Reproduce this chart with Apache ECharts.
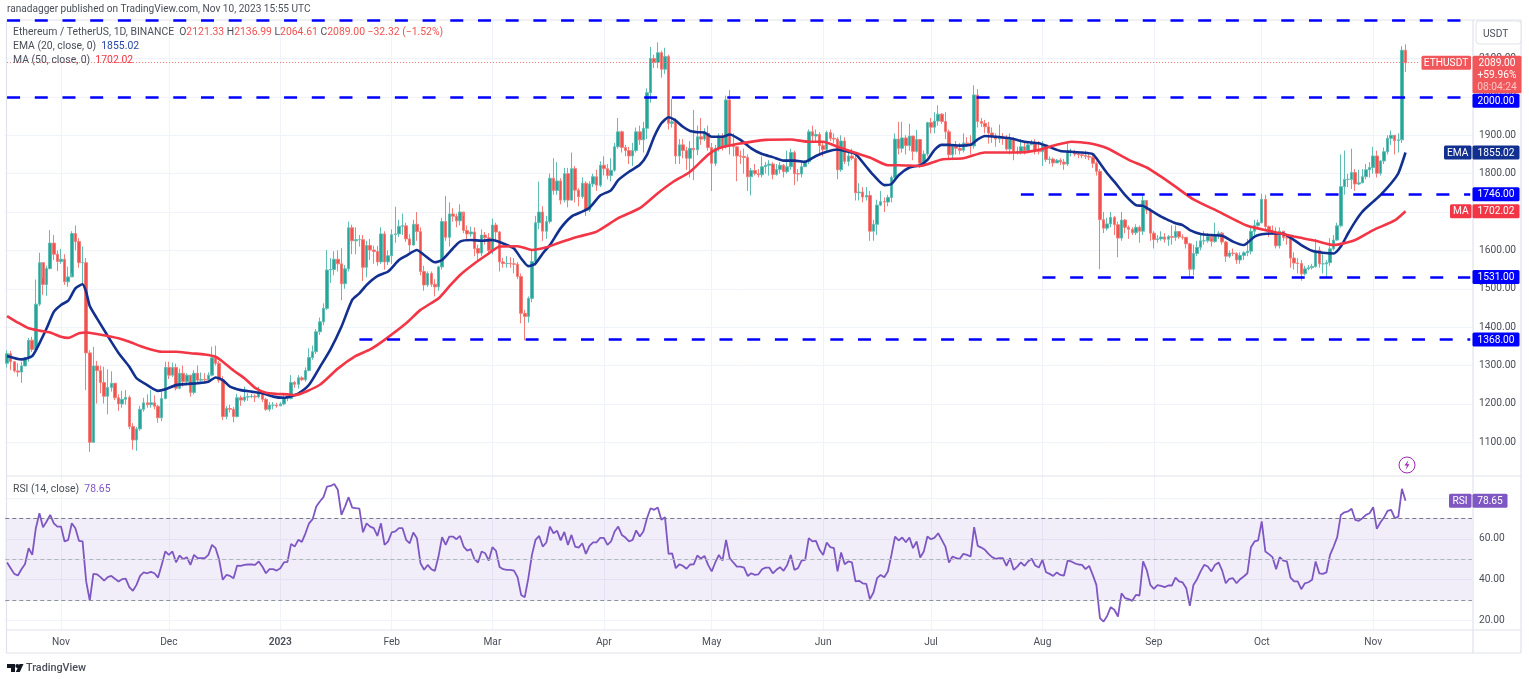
<!DOCTYPE html>
<html>
<head>
<meta charset="utf-8">
<title>ETHUSDT</title>
<script src="https://cdn.jsdelivr.net/npm/echarts@6/dist/echarts.min.js"></script>
<style>
html, body { margin: 0; padding: 0; background: #fff; }
#container { width: 1529px; height: 679px; }
</style>
</head>
<body>
<div id="container"></div>
<script>
// daily candles, one line per month, Oct 17 2022 - Nov 10 2023
var firstOpen = 1306;
var closes = [
    1331,1310,1286,1283,1299,1319,1366,1342,1460,1568,1511,1553,1619,1590,1571,
    1577,1518,1531,1644,1623,1568,1568,1333,1100,1299,1287,1256,1220,1243,1254,1216,1200,1212,1217,1141,1106,1135,1186,1203,1198,1203,1194,1164,1214,1295,
    1275,1295,1241,1280,1258,1275,1230,1280,1262,1264,1263,1275,1320,1306,1262,1167,1188,1186,1167,1216,1210,1218,1219,1220,1218,1227,1212,1186,1197,1197,1195,
    1200,1214,1214,1256,1251,1268,1263,1287,1321,1336,1388,1414,1449,1549,1550,1577,1565,1513,1552,1659,1625,1628,1628,1556,1613,1601,1597,1570,1643,1570,1586,
    1641,1643,1663,1664,1630,1614,1668,1649,1545,1510,1540,1512,1505,1557,1675,1634,1695,1689,1677,1700,1652,1643,1648,1605,1593,1640,1633,1600,
    1666,1648,1570,1566,1566,1565,1564,1532,1436,1428,1475,1571,1672,1700,1650,1675,1788,1756,1781,1731,1800,1731,1813,1757,1740,1775,1705,1773,1792,1770,1822,
    1813,1795,1809,1870,1909,1868,1860,1846,1860,1909,1888,1918,2011,2100,2090,2115,2072,2105,1931,1935,1846,1875,1860,1840,1866,1862,1896,1890,1905,1868,
    1827,1866,1898,1870,1992,1875,1870,1846,1845,1842,1792,1808,1800,1797,1818,1822,1825,1798,1811,1822,1805,1818,1855,1800,1799,1818,1831,1909,1898,1902,1873,
    1863,1907,1892,1890,1810,1885,1832,1846,1840,1750,1752,1739,1743,1650,1668,1718,1727,1726,1738,1790,1890,1866,1893,1873,1898,1858,1889,1827,1851,1933,
    1921,1937,1955,1936,1909,1849,1872,1866,1861,1880,1878,1872,2005,1936,1931,1922,1906,1897,1890,1892,1891,1864,1889,1857,1858,1870,1860,1875,1880,1860,1857,
    1875,1837,1838,1828,1835,1830,1825,1855,1855,1851,1849,1847,1845,1843,1827,1806,1680,1658,1669,1686,1667,1632,1679,1660,1655,1646,1660,1650,1730,1705,1645,
    1628,1630,1635,1629,1636,1634,1649,1635,1634,1617,1551,1592,1608,1625,1625,1636,1623,1640,1645,1622,1585,1593,1592,1575,1587,1594,1598,1650,1665,1672,
    1733,1662,1650,1646,1612,1650,1633,1632,1580,1567,1566,1539,1552,1555,1558,1600,1565,1565,1568,1604,1627,1664,1766,1785,1785,1803,1773,1776,1792,1810,1816,
    1846,1801,1833,1857,1892,1900,1886,1888,2121.33,2089
];
var highs = [
    1340,1338,1312,1306,1310,1322,1372,1375,1524,1594,1528,1560,1653,1640,1600,
    1604,1590,1558,1650,1665,1632,1610,1580,1340,1349,1312,1300,1297,1290,1285,1254,1225,1234,1236,1222,1150,1140,1195,1216,1225,1236,1222,1198,1232,1310,
    1310,1308,1305,1292,1300,1280,1275,1288,1300,1282,1280,1282,1349,1352,1312,1272,1195,1198,1192,1226,1222,1245,1228,1226,1225,1245,1232,1216,1205,1205,1203,
    1204,1222,1220,1275,1260,1275,1272,1295,1345,1352,1395,1425,1462,1601,1580,1598,1600,1606,1562,1675,1667,1660,1640,1640,1625,1630,1612,1612,1660,1650,1600,
    1655,1714,1680,1696,1672,1642,1680,1700,1660,1560,1545,1545,1525,1560,1685,1742,1725,1710,1696,1720,1690,1665,1662,1660,1615,1655,1648,1645,
    1683,1672,1650,1580,1585,1582,1580,1570,1540,1445,1480,1600,1690,1779,1715,1690,1800,1840,1830,1788,1815,1815,1855,1820,1762,1790,1780,1780,1800,1810,1832,
    1845,1825,1840,1880,1945,1912,1875,1870,1880,1920,1925,1935,2022,2130,2110,2142,2120,2128,2110,1995,1945,1890,1890,1870,1885,1966,1925,1945,1918,1925,
    1880,1875,1905,1905,2003,2018,1905,1872,1860,1865,1850,1815,1825,1812,1845,1830,1835,1830,1825,1830,1825,1860,1865,1860,1812,1835,1835,1915,1925,1915,1908,
    1880,1912,1915,1905,1895,1900,1895,1858,1865,1850,1775,1765,1765,1755,1680,1732,1755,1738,1745,1795,1905,1935,1935,1900,1930,1898,1914,1888,1860,1935,
    1945,1960,1978,1958,1960,1915,1875,1885,1880,1905,1895,1900,2030,2020,1945,1940,1935,1920,1905,1928,1905,1900,1905,1895,1870,1890,1885,1882,1888,1890,1885,
    1885,1875,1845,1842,1838,1840,1838,1880,1865,1862,1858,1853,1860,1855,1848,1832,1812,1700,1685,1700,1690,1675,1700,1682,1665,1660,1668,1665,1745,1730,1710,
    1650,1640,1650,1645,1640,1665,1665,1650,1642,1635,1620,1615,1625,1640,1650,1645,1630,1672,1650,1648,1625,1600,1605,1595,1595,1598,1630,1660,1680,1680,
    1748,1745,1665,1665,1660,1660,1650,1640,1635,1595,1580,1575,1560,1562,1565,1630,1610,1590,1575,1632,1640,1672,1850,1860,1800,1865,1812,1810,1812,1825,1830,
    1870,1860,1835,1868,1900,1912,1900,1905,2132,2136.99
];
var lows = [
    1295,1288,1282,1271,1255,1298,1310,1335,1342,1455,1484,1482,1550,1575,1546,
    1565,1510,1505,1540,1600,1555,1510,1236,1075,1100,1201,1228,1201,1173,1232,1210,1182,1190,1198,1134,1081,1078,1130,1180,1190,1190,1186,1151,1155,1212,
    1265,1270,1235,1238,1245,1248,1219,1225,1255,1258,1255,1260,1272,1300,1255,1158,1160,1178,1152,1165,1195,1205,1208,1215,1205,1215,1205,1182,1180,1186,1190,
    1195,1196,1207,1212,1242,1240,1260,1258,1285,1315,1330,1380,1405,1445,1515,1535,1545,1470,1500,1545,1590,1590,1610,1520,1530,1575,1565,1560,1565,1550,1562,
    1565,1620,1635,1640,1622,1595,1612,1625,1535,1495,1505,1505,1480,1495,1550,1625,1610,1675,1660,1665,1645,1625,1635,1585,1575,1585,1615,1590,
    1590,1625,1545,1555,1555,1555,1540,1525,1410,1366,1412,1465,1560,1655,1625,1630,1670,1745,1745,1720,1725,1712,1730,1725,1715,1735,1690,1700,1765,1755,1765,
    1795,1785,1780,1805,1865,1855,1845,1825,1820,1855,1875,1855,1890,1985,2075,2075,2050,2060,1915,1920,1825,1825,1840,1810,1790,1783,1848,1875,1885,1860,
    1755,1820,1858,1860,1865,1850,1845,1780,1825,1800,1755,1743,1795,1790,1790,1800,1795,1785,1795,1800,1790,1800,1810,1770,1780,1790,1820,1825,1880,1880,1850,
    1845,1855,1885,1880,1785,1805,1825,1820,1835,1730,1730,1725,1730,1625,1625,1640,1715,1700,1715,1725,1785,1850,1855,1850,1860,1835,1855,1815,1825,1845,
    1905,1905,1925,1930,1890,1835,1835,1850,1850,1855,1870,1850,1865,1920,1922,1905,1878,1880,1870,1880,1875,1860,1850,1835,1850,1850,1850,1862,1875,1850,1850,
    1820,1830,1825,1818,1828,1822,1810,1820,1845,1845,1840,1840,1838,1835,1815,1795,1551,1645,1652,1660,1640,1582,1625,1645,1630,1640,1640,1620,1640,1695,1625,
    1605,1620,1625,1620,1612,1615,1625,1630,1628,1605,1531,1535,1585,1600,1615,1620,1610,1620,1630,1615,1570,1580,1585,1565,1565,1575,1585,1590,1640,1660,
    1670,1650,1635,1640,1605,1605,1625,1615,1555,1550,1540,1521,1535,1548,1550,1555,1555,1540,1530,1560,1600,1625,1660,1745,1765,1760,1755,1770,1775,1785,1790,
    1800,1790,1795,1825,1850,1875,1850,1855,1880,2064.61
];

// EMA and MA, [day number, value]
var emaPoints = [
    [0,1325],[4,1316],[7,1325],[9,1358],[11,1397],[13,1440],[15,1458],[17,1469],[19,1501],[21,1512],[22,1492],[23,1455],[25,1423],[28,1377],[31,1333],[34,1297],[36,1267],[39,1249],[42,1234],[44,1238],[47,1249],[50,1252],[53,1254],[56,1258],[58,1269],[60,1262],[62,1245],[65,1236],[68,1232],[71,1228],[74,1219],[77,1216],[79,1220],[81,1227],[84,1250],[87,1296],
    [90,1343],[93,1401],[96,1471],[98,1488],[100,1510],[103,1533],[106,1545],[109,1575],[111,1586],[114,1601],[116,1588],[119,1569],[121,1575],[124,1605],[126,1623],[129,1627],[132,1625],[135,1627],[138,1618],[141,1605],[143,1579],[145,1559],[147,1566],[149,1592],[151,1614],[154,1658],[157,1688],[160,1701],[162,1711],
    [165,1743],[168,1757],[170,1783],[173,1805],[176,1823],[178,1849],[180,1896],[182,1931],[184,1947],[186,1938],[188,1922],[190,1911],[192,1908],[194,1907],[196,1896],[199,1896],[201,1902],[204,1888],[207,1866],[210,1851],[213,1843],[216,1834],[219,1834],[222,1831],[225,1846],[228,1857],[231,1863],[234,1857],[236,1851],[239,1818],
    [241,1796],[244,1770],[246,1773],[248,1796],[251,1816],[254,1822],[256,1836],[258,1862],[260,1875],[262,1875],[265,1873],[268,1875],[270,1889],[272,1898],[275,1896],[279,1892],[283,1883],[287,1879],[290,1869],[293,1859],[296,1857],[299,1855],[302,1851],[304,1827],[306,1801],[308,1779],[311,1744],[314,1718],[316,1716],[318,1705],[321,1688],[323,1679],
    [325,1671],[327,1666],[329,1653],[332,1643],[335,1640],[338,1638],[341,1623],[344,1614],[347,1636],[349,1642],[352,1644],[355,1643],[358,1627],[360,1614],[363,1599],[366,1594],[369,1592],[371,1610],[373,1644],[375,1675],[377,1701],[380,1727],[382,1744],[385,1775],[387,1801],[389,1855.02]
];
var maPoints = [
    [0,1429],[3,1412],[6,1397],[9,1391],[12,1386],[15,1375],[17,1372],[20,1384],[22,1386],[25,1382],[28,1377],[31,1371],[34,1362],[37,1351],[40,1342],[43,1336],[47,1336],[51,1332],[55,1329],[58,1323],[60,1310],[63,1287],[66,1267],[69,1242],[72,1229],[75,1226],[78,1225],[80,1223],[87,1250],[92,1292],[97,1325],
    [101,1342],[105,1367],[111,1410],[115,1445],[120,1475],[123,1506],[126,1536],[130,1566],[134,1592],[137,1610],[142,1611],[146,1601],[150,1608],[153,1618],[159,1636],[164,1649],[170,1684],[176,1710],[181,1749],[185,1777],[190,1805],[195,1849],[198,1866],[203,1877],[211,1888],[218,1889],[223,1883],[227,1883],[231,1870],[237,1851],
    [240,1842],[245,1822],[248,1822],[254,1820],[260,1837],[266,1840],[272,1855],[281,1855],[286,1860],[292,1875],[296,1883],[301,1879],[306,1866],[312,1836],[317,1816],[321,1792],[325,1766],[330,1733],[337,1701],[345,1664],[351,1651],[358,1636],[364,1625],[369,1614],[375,1627],[380,1653],[386,1678],[389,1702.02]
];
var rsiValues = [
    48.4,45.6,42.8,42,45.1,47.7,55.4,52.1,65.2,72.5,65.7,68.5,71.7,67.6,66,66,58.7,59.5,67.6,65.2,59,58.7,39.1,29.7,42.8,42.6,41.2,39.5,41.2,41.8,40.4,39.1,40.2,40.5,36.3,34.5,37.4,41.8,43.5,43.1,43.8,43.1,41,47.2,53.8,52.1,53.8,48.5,51.8,50,51,47.2,52.1,50.5,50.5,50.5,52.1,57,55.4,49.7,39.9,42.3,41.8,40.7,46.9,46.7,47.2,47.4,47.4,47.2,48.9,46.4,43.1,45.1,45.1,44.4,45.6,48.4,48.7,57.5,56.2,59.5,58.5,62.7,67.6,69.6,75.8,78.3,80.4,85.6,85.9,86.9,84,71.7,75.8,80.4,75.3,75,74.8,63.2,67.6,66,65.2,61.4,67.6,57,58.7,63.2,63.6,65.2,65.2,59.5,57.8,63.1,60.3,48,44.8,47.2,45.1,44.3,51.3,60.8,57,61.1,61.1,59.8,61.4,56.2,54.2,54.9,50,48.4,53.8,52.9,49.3,55.9,54.1,46.2,
    45.1,44.8,44.8,44.4,41.2,32.5,31.4,40.7,52.1,59.5,61.4,56.2,58.2,66,62.7,63.9,59.2,63.4,57,61.9,56.2,55.7,57.8,52.6,56.5,58.2,58.3,60.5,60.5,57,58.7,63.6,66,61.9,60.6,58.7,59.5,64.1,61.1,63.6,70.1,75,74.2,75.3,69.3,70.6,52.6,52.9,45.6,47.5,46.7,45.3,47.4,47.5,51.8,50.3,51.6,47.2,44,48.4,52.1,49.3,59.5,50.5,48.4,46.4,46.4,45.9,41.8,43.1,42.3,42.6,45.1,45.9,45.9,43.1,44.8,46.1,44.3,47.2,52.1,44.8,45.6,49.3,49.7,60.3,58.7,59,54.6,52.1,58.2,55.9,55.4,44,53.3,47.5,48.9,48.5,39.1,39.4,38.2,37.9,30.4,33.7,40.7,42.3,41.2,44,52.1,61.1,59.2,60.6,58.3,60.6,55.4,58.7,50.8,53.8,61.1,59.8,60.6,62.7,59.5,56.2,48.4,51.3,50.5,50.2,52.6,52.1,51.3,65.7,56.5,55.7,54.6,52.6,51,50.2,50.5,
    50.5,46.7,50.5,44.8,46.4,48.4,46.7,48.9,50.2,46.9,45.9,49.7,43.6,42.8,41.8,43.5,42.3,42,49.3,48.9,48,47.4,47.2,45.1,46.7,42.3,37.4,21.1,19.4,22.2,26.5,25.2,21.9,33.3,30.9,30.4,29.6,32.5,32.2,48.9,44.8,37.4,35.5,37.3,36.9,36.3,37.1,37.1,41,39.1,38.6,35.8,27.1,37.4,40.2,44,47.2,46.4,44,47.2,48.4,44.4,38.2,40.4,40.7,38.2,40.2,41.5,43.1,55.9,58.7,59.2,68.5,53.8,52.5,51,45.1,51,49.3,48.9,41,39.1,39.1,35.3,38.2,38.7,39.9,48.9,43.1,42.8,43.5,52.1,56.2,60.8,71.7,73,73.4,74.7,69.3,68.8,70.1,71.7,72.5,75.5,64.9,68,70.4,73.7,74.2,70.1,70.9,84.5,78.65
];

var levels = [2200, 2000, 1746, 1531, 1368]; // horizontal support/resistance
var levelStart = [0, 0, 282, 288, 98];       // day where each line begins
var levelEnd = [407, 405, 407, 407, 407];
var lastPrice = 2089, emaLast = 1855.02, maLast = 1702.02, rsiLast = 78.65;
var monthNames = ['Jan','Feb','Mar','Apr','May','Jun','Jul','Aug','Sep','Oct','Nov','Dec'];

// day categories incl. the empty space to the right of the last candle
var dates = [];
for (var i = 0; i < 408; i++) {
    var d = new Date(Date.UTC(2022, 9, 17 + i));
    dates.push(d.toISOString().slice(0, 10));
}

var opens = [firstOpen].concat(closes.slice(0, -1));
var candles = closes.map(function (c, k) {
    return [opens[k], c, lows[k], highs[k]];
});

var upColor = '#26a69a', downColor = '#ef5350', blue = '#0000ff';
var upEdge = '#5fbdb4', downEdge = '#f47d7a'; // wicks look paler than bodies
var emaColor = '#12308f', maColor = '#f23645', rsiColor = '#7e57c2';
var gridColor = '#f0f3fa', frameColor = '#e0e3eb', textColor = '#4a4e59';
var fontName = 'Roboto';
var axisFont = 10.2, legendFont = 10.4;

var plotLeft = 5.28, plotWidth = 1466.76;

function isMonthStart(index, value) {
    return value.slice(8) === '01';
}

function levelLine(k) {
    return [
        { xAxis: dates[levelStart[k]], yAxis: levels[k] },
        { xAxis: dates[levelEnd[k]], yAxis: levels[k] }
    ];
}

var dom = document.getElementById('container');
var myChart = echarts.init(dom, null, { renderer: 'canvas' });

var option = {
    animation: false,
    backgroundColor: '#ffffff',
    textStyle: { fontFamily: fontName },
    grid: [
        { left: plotLeft, width: plotWidth, top: 20.1, height: 460.6 },
        { left: plotLeft, width: plotWidth, top: 477.6, height: 163.2 },
        { left: plotLeft, width: plotWidth, top: 20, height: 610 }
    ],
    xAxis: [
        { type: 'category', gridIndex: 0, data: dates, show: false },
        { type: 'category', gridIndex: 1, data: dates, show: false },
        {
            type: 'category', gridIndex: 2, data: dates,
            axisLine: { show: false },
            axisTick: { show: false },
            splitLine: {
                show: true,
                alignWithLabel: true,
                interval: isMonthStart,
                lineStyle: { color: gridColor, width: 1 }
            },
            axisLabel: {
                interval: isMonthStart,
                margin: 7,
                fontSize: axisFont,
                color: textColor,
                fontFamily: fontName,
                formatter: function (value) {
                    if (value === '2023-01-01') return '{b|2023}';
                    return monthNames[+value.slice(5, 7) - 1];
                },
                rich: { b: { fontWeight: 600, fontSize: axisFont, color: textColor, fontFamily: fontName } }
            }
        }
    ],
    yAxis: [
        {
            type: 'value', gridIndex: 0, position: 'right',
            min: 1000, max: 2200, interval: 100,
            axisLine: { show: false }, axisTick: { show: false },
            splitLine: { show: true, showMinLine: false, showMaxLine: false, lineStyle: { color: gridColor } },
            axisLabel: {
                margin: 7, fontSize: axisFont, color: textColor, fontFamily: fontName,
                showMinLabel: false, showMaxLabel: false,
                formatter: function (v) { return v.toFixed(2); }
            }
        },
        {
            type: 'value', gridIndex: 1, position: 'right',
            min: 10, max: 90, interval: 10,
            axisLine: { show: false }, axisTick: { show: false },
            splitLine: { show: true, showMinLine: false, showMaxLine: false, lineStyle: { color: gridColor } },
            axisLabel: {
                margin: 7, fontSize: axisFont, color: textColor, fontFamily: fontName,
                formatter: function (v) { return (v === 20 || v === 40 || v === 60) ? v.toFixed(2) : ''; }
            }
        },
        { type: 'value', gridIndex: 2, show: false, splitLine: { show: false } }
    ],
    series: [
        {
            name: 'ETHUSDT', type: 'candlestick', xAxisIndex: 0, yAxisIndex: 0,
            barWidth: 3,
            data: candles,
            itemStyle: {
                color: upColor, color0: downColor,
                borderColor: upEdge, borderColor0: downEdge, borderWidth: 1
            },
            markLine: {
                silent: true, symbol: 'none', animation: false,
                label: { show: false },
                lineStyle: { color: blue, width: 2.5, type: [13, 14.7], opacity: 1 },
                data: levels.map(function (v, k) { return levelLine(k); }).concat([[
                    {
                        xAxis: dates[0], yAxis: lastPrice,
                        lineStyle: { color: downColor, width: 1, type: [1, 2], opacity: 0.8 }
                    },
                    { xAxis: dates[393], yAxis: lastPrice }
                ]])
            }
        },
        {
            name: 'EMA', type: 'line', xAxisIndex: 0, yAxisIndex: 0,
            data: emaPoints, showSymbol: false, smooth: 0.2,
            lineStyle: { color: emaColor, width: 2.6 }, z: 3
        },
        {
            name: 'MA', type: 'line', xAxisIndex: 0, yAxisIndex: 0,
            data: maPoints, showSymbol: false, smooth: 0.2,
            lineStyle: { color: maColor, width: 2.6 }, z: 3
        },
        {
            name: 'RSI', type: 'line', xAxisIndex: 1, yAxisIndex: 1,
            data: rsiValues, showSymbol: false,
            lineStyle: { color: rsiColor, width: 1.8 },
            markArea: {
                silent: true,
                itemStyle: { color: 'rgba(126,87,194,0.1)' },
                data: [[{ yAxis: 70 }, { yAxis: 30 }]]
            },
            markLine: {
                silent: true, symbol: 'none', animation: false,
                label: { show: false },
                lineStyle: { color: '#787b86', width: 1, type: [4, 3] },
                data: [
                    { yAxis: 70 },
                    { yAxis: 50, lineStyle: { color: '#b2b5be', width: 1, type: [4, 3] } },
                    { yAxis: 30, lineStyle: { color: '#8f929c', width: 1, type: [4, 3] } }
                ]
            }
        },
        { type: 'line', xAxisIndex: 2, yAxisIndex: 2, data: [] }
    ]
};
myChart.setOption(option);

// frame, legends and the price tags on the right
function frameLine(x1, y1, x2, y2) {
    return {
        type: 'line', z: 1, silent: true,
        shape: { x1: x1, y1: y1, x2: x2, y2: y2 },
        style: { stroke: frameColor, lineWidth: 1.2 }
    };
}
function label(x, y, text, size, color, align, weight) {
    return {
        type: 'text', x: x, y: y, z: 60, silent: true,
        style: {
            text: text, fill: color, font: (weight || 400) + ' ' + size + 'px ' + fontName,
            align: align || 'left', verticalAlign: 'middle'
        }
    };
}
function box(x, y, w, h, fill) {
    return {
        type: 'rect', z: 50, silent: true,
        shape: { x: x, y: y, width: w, height: h, r: 1.5 },
        style: { fill: fill }
    };
}
function priceTag(value, fill, name, nameLeft, dy) {
    var y = myChart.convertToPixel({ yAxisIndex: 0 }, value) + (dy || 0);
    var out = [box(1472.5, y - 7, 47, 14, fill), label(1496, y + 0.5, value.toFixed(2), axisFont, '#fff', 'center')];
    if (name) {
        out.push(box(nameLeft, y - 7, 1471.5 - nameLeft, 14, fill));
        out.push(label((nameLeft + 1471.5) / 2, y + 0.5, name, axisFont, '#fff', 'center'));
    }
    return out;
}

var legendRich = {
    g: { fill: textColor, font: '400 ' + legendFont + 'px ' + fontName },
    r: { fill: downColor, font: '400 ' + legendFont + 'px ' + fontName },
    b: { fill: '#2a47a5', font: '400 ' + legendFont + 'px ' + fontName },
    m: { fill: maColor, font: '400 ' + legendFont + 'px ' + fontName },
    p: { fill: rsiColor, font: '400 ' + legendFont + 'px ' + fontName }
};
function richLabel(x, y, text) {
    return {
        type: 'text', x: x, y: y, z: 60, silent: true,
        style: { text: text, rich: legendRich, verticalAlign: 'middle' }
    };
}

var lastY = myChart.convertToPixel({ yAxisIndex: 0 }, lastPrice);
var rsiY = myChart.convertToPixel({ yAxisIndex: 1 }, rsiLast);

var elements = [
    frameLine(6.5, 20, 1521, 20), frameLine(6.5, 20, 6.5, 653),
    frameLine(6.5, 476, 1521, 476), frameLine(6.5, 630, 1521, 630),
    frameLine(6.5, 653, 1521, 653), frameLine(1473, 20, 1473, 653), frameLine(1521, 20, 1521, 653),

    label(7, 9, 'ranadagger published on TradingView.com, Nov 10, 2023 15:55 UTC', 10.1, textColor),
    richLabel(13, 32, '{g|Ethereum / TetherUS, 1D, BINANCE  O}{r|2121.33}{g| H}{r|2136.99}{g| L}{r|2064.61}{g| C}{r|2089.00 −32.32 (−1.52%)}'),
    richLabel(13, 46.5, '{g|EMA (20, close, 0)  }{b|1855.02}'),
    richLabel(13, 60.5, '{g|MA (50, close, 0)  }{m|1702.02}'),
    richLabel(13, 489.5, '{g|RSI (14, close)  }{p|78.65}'),

    // USDT button
    {
        type: 'rect', z: 50, silent: true,
        shape: { x: 1476, y: 21, width: 45, height: 23, r: 3 },
        style: { fill: '#fff', stroke: frameColor, lineWidth: 1 }
    },
    label(1483, 34, 'USDT', axisFont, textColor),

    // last price block
    box(1421.5, lastY - 7, 49.5, 14, '#f0565a'),
    label(1446, lastY + 0.5, 'ETHUSDT', axisFont, '#fff', 'center'),
    box(1472.5, lastY - 7, 49, 37.5, '#f0565a'),
    label(1497, lastY + 0.5, '2089.00', axisFont, '#fff', 'center'),
    label(1497, lastY + 12.5, '+59.96%', axisFont, '#fff', 'center'),
    label(1497, lastY + 24.5, '08:04:24', axisFont, '#fbc5c6', 'center'),

    // RSI tags
    box(1449, rsiY - 7, 22.5, 14, rsiColor),
    label(1460, rsiY + 0.5, 'RSI', axisFont, '#fff', 'center'),
    box(1472.5, rsiY - 7, 35, 14, rsiColor),
    label(1490, rsiY + 0.5, rsiLast.toFixed(2), axisFont, '#fff', 'center'),

    // lightning marker above the RSI pane
    {
        type: 'circle', z: 50, silent: true,
        shape: { cx: 1407, cy: 465, r: 8 },
        style: { fill: '#fff', stroke: '#9c27b0', lineWidth: 1 }
    },
    {
        type: 'polygon', z: 51, silent: true,
        shape: { points: [[1408.5, 460], [1404.5, 465.6], [1407, 465.6], [1405.5, 470], [1409.5, 464.2], [1407, 464.2]] },
        style: { fill: '#9c27b0' }
    },

    // TradingView logo
    {
        type: 'polygon', z: 50, silent: true,
        shape: { points: [[7, 664], [15, 664], [15, 672], [11, 672], [11, 668], [7, 668]] },
        style: { fill: '#131722' }
    },
    { type: 'circle', z: 50, silent: true, shape: { cx: 17.3, cy: 666, r: 2 }, style: { fill: '#131722' } },
    {
        type: 'polygon', z: 50, silent: true,
        shape: { points: [[19.5, 664], [23.5, 664], [19.8, 672], [15.8, 672]] },
        style: { fill: '#131722' }
    },
    label(26, 668.5, 'TradingView', 10.8, '#4a4e59', 'left', 500)
];
elements = elements
    .concat(priceTag(2000, blue, null, 0, 4))
    .concat(priceTag(emaLast, emaColor, 'EMA', 1444))
    .concat(priceTag(1746, blue))
    .concat(priceTag(maLast, maColor, 'MA', 1450))
    .concat(priceTag(1531, blue))
    .concat(priceTag(1368, blue));

myChart.setOption({ graphic: { elements: elements } });

window.addEventListener('resize', myChart.resize);
</script>
</body>
</html>
